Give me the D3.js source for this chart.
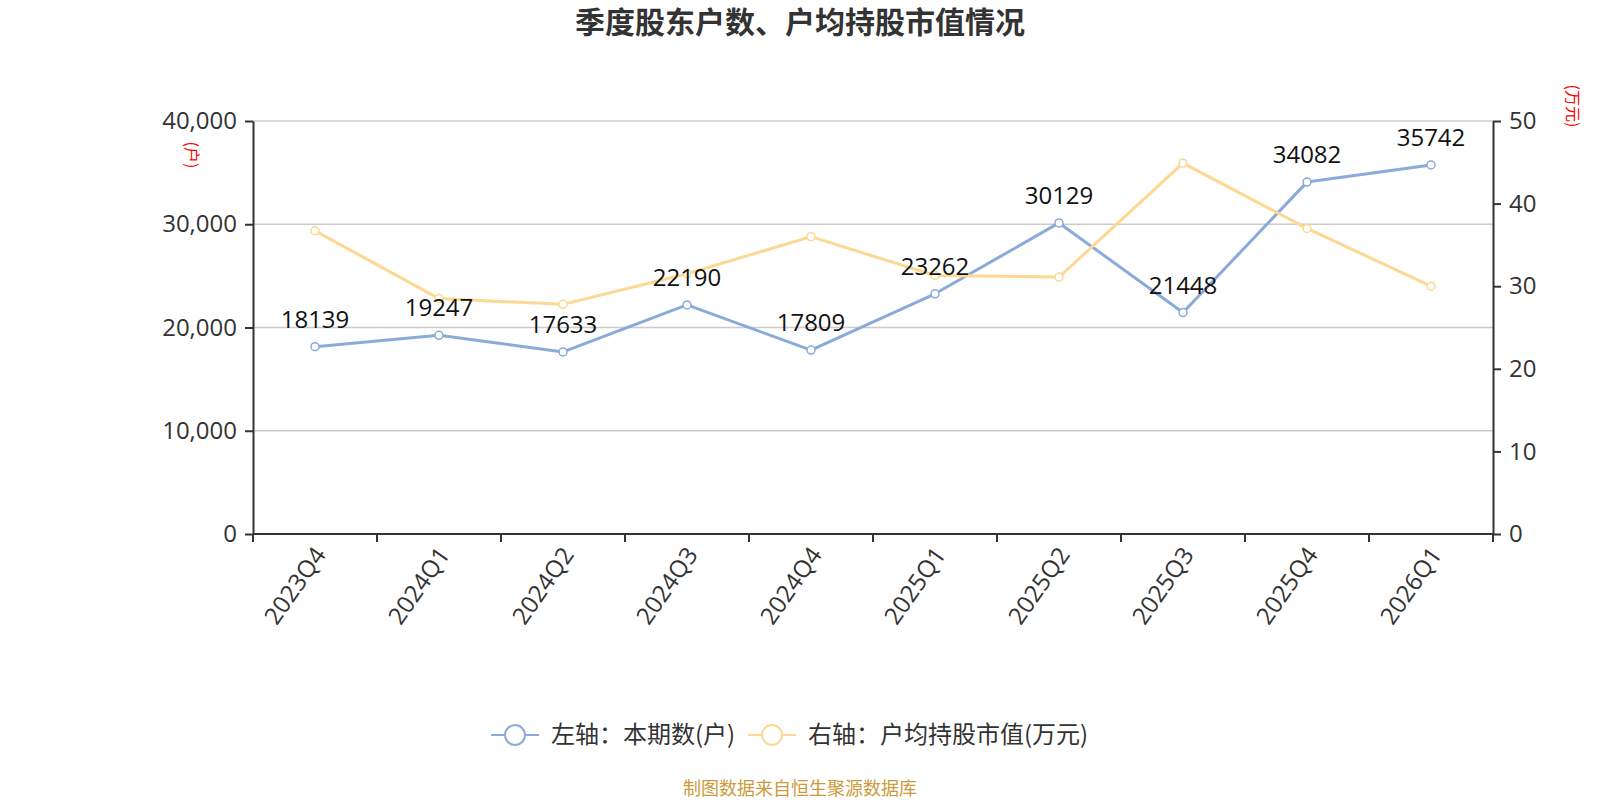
<!DOCTYPE html>
<html>
<head>
<meta charset="utf-8">
<script src="https://cdn.jsdelivr.net/npm/d3@7/dist/d3.min.js"></script>
<style>
  body { margin: 0; background: #fff; }
  svg { display: block; }
</style>
</head>
<body>
<svg id="chart"></svg>
<script>
// quarters on the x axis
const quarters = ['2023Q4', '2024Q1', '2024Q2', '2024Q3', '2024Q4', '2025Q1', '2025Q2', '2025Q3', '2025Q4', '2026Q1'];
// left axis: shareholder accounts (户)
const holders = [18139, 19247, 17633, 22190, 17809, 23262, 30129, 21448, 34082, 35742];
// right axis: average holding value per account (万元)
const avgValue = [36.7, 28.5, 27.8, 31.5, 36.0, 31.3, 31.1, 44.9, 37.0, 30.0];
const leftTicks = [0, 10000, 20000, 30000, 40000];
const rightTicks = [0, 10, 20, 30, 40, 50];

const width = 1600, height = 800;
const margin = {top: 121, right: 107, bottom: 266, left: 253};
const innerW = width - margin.left - margin.right;
const innerH = height - margin.top - margin.bottom;

const blue = '#8aabd9', yellow = '#fdd892';
const numFont = '"Open Sans", "Noto Sans", sans-serif';
const cjkFont = '"Noto Sans CJK SC", sans-serif';

const svg = d3.select('#chart').attr('width', width).attr('height', height);
const chart = svg.append('g').attr('transform', `translate(${margin.left},${margin.top})`);

const xScale = d3.scaleBand().domain(quarters).range([0, innerW]);
const yLeft = d3.scaleLinear().domain([0, 40000]).range([innerH, 0]);
const yRight = d3.scaleLinear().domain([0, 50]).range([innerH, 0]);
const xc = d => xScale(d) + xScale.bandwidth() / 2;

// grid lines
chart.append('g')
    .selectAll('line')
    .data(leftTicks.filter(d => d > 0))
    .join('line')
    .attr('x1', 0).attr('x2', innerW)
    .attr('y1', d => yLeft(d)).attr('y2', d => yLeft(d))
    .attr('stroke', '#cccccc').attr('stroke-width', 1.5);

// axes
const styleAxis = g => {
    g.select('.domain').attr('stroke', '#333').attr('stroke-width', 2);
    g.selectAll('.tick line').attr('stroke', '#333').attr('stroke-width', 2);
    g.selectAll('.tick text').attr('fill', '#333').style('font-family', numFont).style('font-size', '24px');
};

chart.append('g')
    .call(d3.axisLeft(yLeft).tickValues(leftTicks).tickFormat(d3.format(',')).tickSize(8).tickSizeOuter(0).tickPadding(8))
    .call(styleAxis);

chart.append('g')
    .attr('transform', `translate(${innerW},0)`)
    .call(d3.axisRight(yRight).tickValues(rightTicks).tickSize(8).tickSizeOuter(0).tickPadding(8))
    .call(styleAxis);

// x axis: ticks on band boundaries
const xAxisG = chart.append('g').attr('transform', `translate(0,${innerH})`);
xAxisG.append('line').attr('x1', 0).attr('x2', innerW).attr('stroke', '#333').attr('stroke-width', 2);
xAxisG.selectAll('.xtick')
    .data(d3.range(quarters.length + 1))
    .join('line')
    .attr('x1', i => i * xScale.step()).attr('x2', i => i * xScale.step())
    .attr('y1', 0).attr('y2', 8)
    .attr('stroke', '#333').attr('stroke-width', 2);
xAxisG.selectAll('.xlabel')
    .data(quarters)
    .join('text')
    .attr('transform', d => `translate(${xc(d) + 5},${16}) rotate(-55)`)
    .attr('text-anchor', 'end')
    .attr('dy', '0.35em')
    .attr('fill', '#333')
    .style('font-family', numFont).style('font-size', '24px')
    .text(d => d);

// axis unit titles
svg.append('text')
    .attr('transform', 'translate(186,155) rotate(90)')
    .attr('text-anchor', 'middle')
    .attr('fill', 'red')
    .style('font-family', cjkFont).style('font-size', '16px')
    .text('(户)');
svg.append('text')
    .attr('transform', 'translate(1567,106) rotate(90)')
    .attr('text-anchor', 'middle')
    .attr('fill', 'red')
    .style('font-family', cjkFont).style('font-size', '16px')
    .text('(万元)');

// lines
const drawSeries = (values, scale, color) => {
    const line = d3.line().x((d, i) => xc(quarters[i])).y(d => scale(d));
    chart.append('path')
        .datum(values)
        .attr('d', line)
        .attr('fill', 'none')
        .attr('stroke', color)
        .attr('stroke-width', 3)
        .attr('stroke-linejoin', 'round');
    chart.append('g')
        .selectAll('circle')
        .data(values)
        .join('circle')
        .attr('cx', (d, i) => xc(quarters[i]))
        .attr('cy', d => scale(d))
        .attr('r', 4)
        .attr('fill', '#fff')
        .attr('stroke', color)
        .attr('stroke-width', 1.5);
};
drawSeries(holders, yLeft, blue);
drawSeries(avgValue, yRight, yellow);

// value labels on the holders series
chart.append('g')
    .selectAll('text')
    .data(holders)
    .join('text')
    .attr('x', (d, i) => xc(quarters[i]))
    .attr('y', d => yLeft(d) - 19)
    .attr('text-anchor', 'middle')
    .attr('fill', '#111')
    .style('font-family', numFont).style('font-size', '24px')
    .text(d => d);

// title
svg.append('text')
    .attr('x', 800).attr('y', 33)
    .attr('text-anchor', 'middle')
    .attr('fill', '#333')
    .style('font-family', cjkFont).style('font-size', '30px').style('font-weight', 'bold')
    .text('季度股东户数、户均持股市值情况');

// legend
const legendItems = [
    {label: '左轴：本期数(户)', color: blue, x: 515},
    {label: '右轴：户均持股市值(万元)', color: yellow, x: 772}
];
const legend = svg.append('g').attr('transform', 'translate(0,735)');
legendItems.forEach(it => {
    const g = legend.append('g').attr('transform', `translate(${it.x},0)`);
    g.append('line').attr('x1', -24).attr('x2', 24).attr('stroke', it.color).attr('stroke-width', 2);
    g.append('circle').attr('r', 10).attr('fill', '#fff').attr('stroke', it.color).attr('stroke-width', 2);
    g.append('text')
        .attr('x', 36).attr('dy', '0.35em')
        .attr('fill', '#333')
        .style('font-family', cjkFont).style('font-size', '24px')
        .text(it.label);
});

// source note
svg.append('text')
    .attr('x', 800).attr('y', 795)
    .attr('text-anchor', 'middle')
    .attr('fill', '#cc9a3a')
    .style('font-family', cjkFont).style('font-size', '18px')
    .text('制图数据来自恒生聚源数据库');
</script>
</body>
</html>
